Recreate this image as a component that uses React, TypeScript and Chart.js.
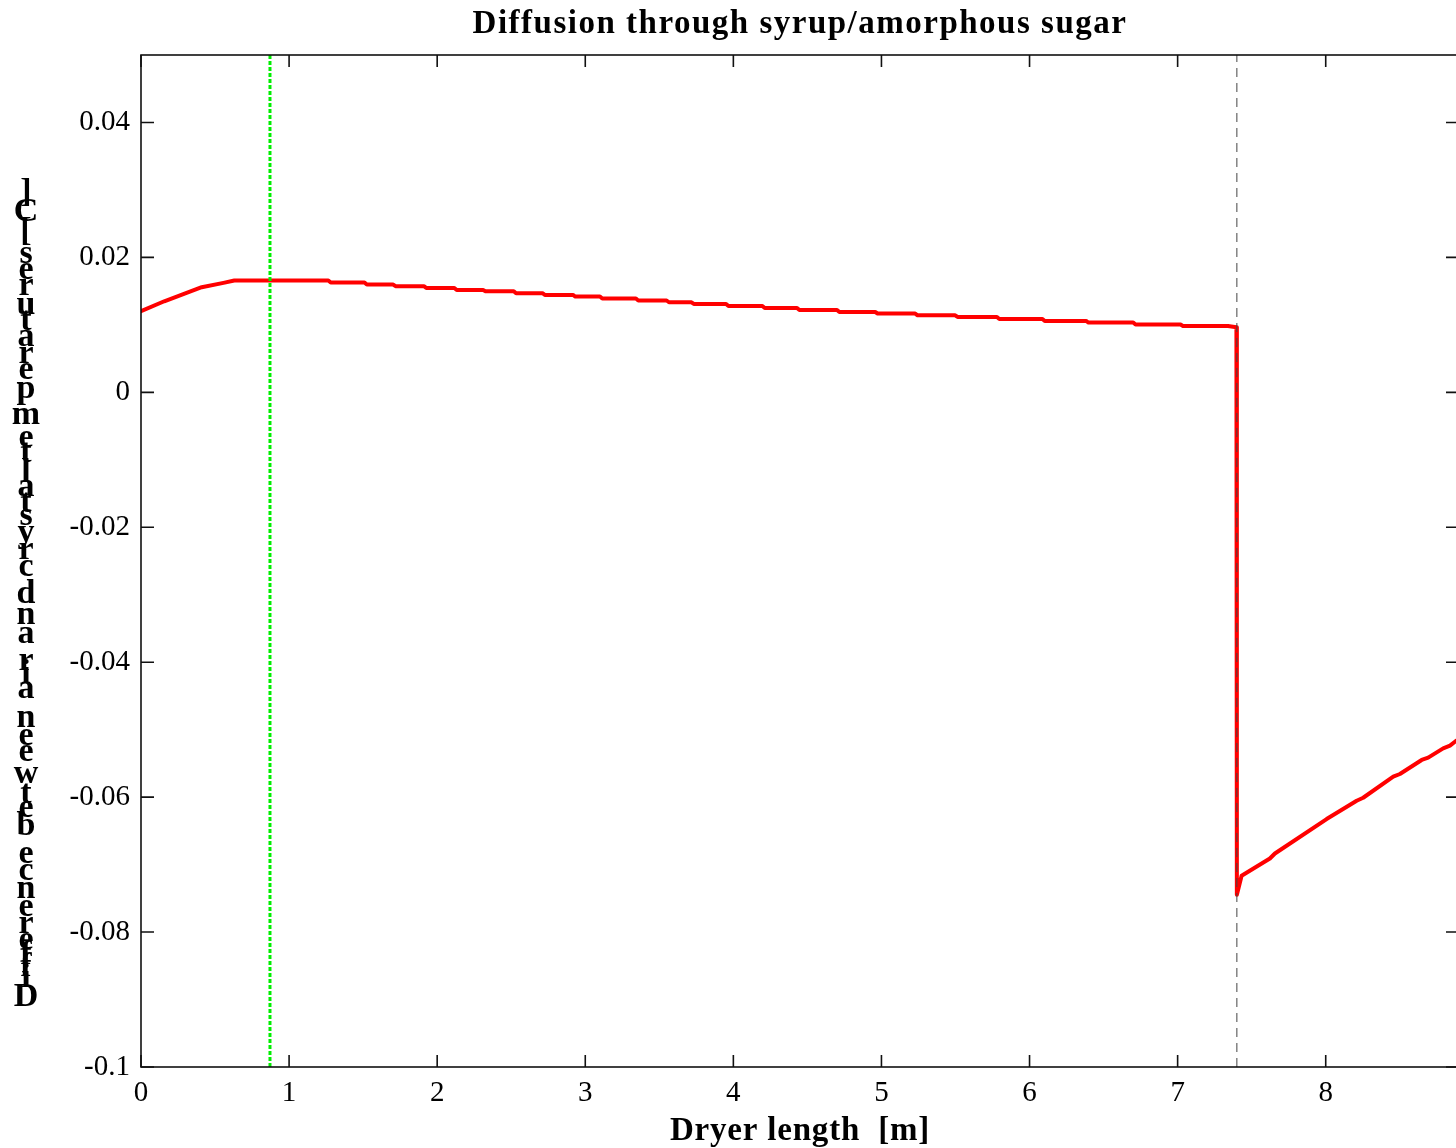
import React, { useEffect, useRef } from 'react';
import { Chart, registerables } from 'chart.js';

Chart.register(...registerables);

const TITLE = 'Diffusion through syrup/amorphous sugar';
const X_LABEL = 'Dryer length  [m]';
const Y_LABEL = 'Difference between air and crystal temperatures [C]';

const xTicks = [0, 1, 2, 3, 4, 5, 6, 7, 8];
const xTickLabels = ['0', '1', '2', '3', '4', '5', '6', '7', '8'];
const yTicks = [-0.1, -0.08, -0.06, -0.04, -0.02, 0, 0.02, 0.04];
const yTickLabels = ['-0.1', '-0.08', '-0.06', '-0.04', '-0.02', '0', '0.02', '0.04'];
const X_MIN = 0;
const X_MAX = 8.9;
const Y_MIN = -0.1;
const Y_MAX = 0.05;

// rising part at the dryer inlet
const riseX = [0, 0.157, 0.41, 0.557, 0.63, 1.261];
const riseY = [0.01202, 0.0135, 0.01558, 0.01622, 0.01657, 0.01657];
// stepped, slowly decreasing plateau
const stepX = [1.273, 1.517, 1.711, 1.918, 2.124, 2.318, 2.525, 2.719, 2.925, 3.107, 3.35, 3.557, 3.725, 3.959, 4.204, 4.438, 4.708, 4.966, 5.236, 5.506, 5.788, 6.095, 6.39, 6.708, 7.028];
const stepY = [0.01628, 0.01598, 0.01573, 0.01547, 0.01518, 0.01499, 0.01469, 0.01444, 0.0142, 0.0139, 0.01361, 0.01335, 0.0131, 0.0128, 0.01251, 0.01221, 0.01191, 0.01168, 0.01142, 0.01117, 0.01088, 0.01058, 0.01034, 0.01004, 0.00984];
// drop and recovery after the transition
const tailX = [7.34, 7.397, 7.4, 7.432, 7.623, 7.657, 8.006, 8.209, 8.253, 8.456, 8.501, 8.648, 8.692, 8.793, 8.839, 8.879, 8.9];
const tailY = [0.00984, 0.00964, -0.07448, -0.07166, -0.0691, -0.06835, -0.06325, -0.06053, -0.06009, -0.05697, -0.05657, -0.05449, -0.05415, -0.05277, -0.05237, -0.05168, -0.0514];

const GREEN_X = 0.871;
const DASH_X = 7.4;

function buildCurve() {
  const pts: { x: number; y: number }[] = [];
  riseX.forEach((x, i) => pts.push({ x, y: riseY[i] }));
  let prev = riseY[riseY.length - 1];
  stepX.forEach((x, i) => {
    pts.push({ x: x - 0.008, y: prev });
    pts.push({ x: x + 0.008, y: stepY[i] });
    prev = stepY[i];
  });
  tailX.forEach((x, i) => pts.push({ x, y: tailY[i] }));
  return pts;
}

const SERIF = '"Liberation Serif", "Times New Roman", serif';

const framePlugin = {
  id: 'frame',
  afterDatasetsDraw(chart: any) {
    const { ctx, chartArea: a, scales } = chart;
    ctx.save();
    ctx.strokeStyle = '#111111';
    ctx.lineWidth = 1.6;
    ctx.strokeRect(a.left, a.top, a.right - a.left, a.bottom - a.top);
    ctx.beginPath();
    for (const v of xTicks) {
      const px = scales.x.getPixelForValue(v);
      ctx.moveTo(px, a.bottom);
      ctx.lineTo(px, a.bottom - 12);
      ctx.moveTo(px, a.top);
      ctx.lineTo(px, a.top + 12);
    }
    for (const v of yTicks) {
      const py = scales.y.getPixelForValue(v);
      ctx.moveTo(a.left, py);
      ctx.lineTo(a.left + 13, py);
      ctx.moveTo(a.right, py);
      ctx.lineTo(a.right - 13, py);
    }
    ctx.stroke();

    const cx = (a.left + a.right) / 2;
    ctx.fillStyle = '#000';
    // title
    ctx.font = `bold 33px ${SERIF}`;
    (ctx as any).letterSpacing = '1.5px';
    ctx.textAlign = 'center';
    ctx.textBaseline = 'alphabetic';
    ctx.fillText(TITLE, cx, 33);
    // x label
    ctx.font = `bold 33px ${SERIF}`;
    (ctx as any).letterSpacing = '0.8px';
    ctx.fillText(X_LABEL, cx, 1140);
    (ctx as any).letterSpacing = '0px';

    // y label: upright glyphs stacked bottom-to-top
    ctx.font = `bold 34px ${SERIF}`;
    const chars = Array.from(Y_LABEL);
    const widths = chars.map((c) => ctx.measureText(c).width);
    const centers: number[] = [];
    let acc = 0;
    widths.forEach((w) => {
      centers.push(acc + w / 2);
      acc += w;
    });
    const bottom = 997;
    const top = 193;
    const k = (bottom - top) / (centers[centers.length - 1] - centers[0]);
    ctx.textBaseline = 'middle';
    chars.forEach((c, i) => {
      if (c === ' ') return;
      const y = bottom - (centers[i] - centers[0]) * k;
      ctx.fillText(c, 26, y);
    });
    ctx.restore();
  },
};

export default function App() {
  const ref = useRef<HTMLCanvasElement | null>(null);

  useEffect(() => {
    document.body.style.margin = '0';
    const canvas = ref.current;
    if (!canvas) return;
    const curve = buildCurve();
    const chart = new Chart(canvas, {
      type: 'line',
      data: {
        datasets: [
          {
            data: curve,
            borderColor: '#ff0000',
            borderWidth: 4,
            borderJoinStyle: 'round',
            borderCapStyle: 'round',
            pointRadius: 0,
            tension: 0,
            fill: false,
            order: 2,
          },
          {
            data: [
              { x: GREEN_X, y: Y_MIN },
              { x: GREEN_X, y: Y_MAX },
            ],
            borderColor: '#00ee00',
            borderWidth: 3,
            borderDash: [4, 2],
            pointRadius: 0,
            fill: false,
            order: 1,
          },
          {
            data: [
              { x: DASH_X, y: Y_MIN },
              { x: DASH_X, y: Y_MAX },
            ],
            borderColor: '#444444',
            borderWidth: 1,
            borderDash: [9, 6],
            pointRadius: 0,
            fill: false,
            order: 0,
          },
        ],
      },
      options: {
        animation: false,
        responsive: false,
        devicePixelRatio: 1,
        layout: { padding: { top: 55, right: 11, left: 0, bottom: 0 } },
        plugins: {
          legend: { display: false },
          title: { display: false },
          tooltip: { enabled: false },
        },
        scales: {
          x: {
            type: 'linear',
            min: X_MIN,
            max: X_MAX,
            grid: { display: false, drawTicks: false },
            border: { display: false },
            afterBuildTicks: (s: any) => {
              s.ticks = xTicks.map((v) => ({ value: v }));
            },
            afterFit: (s: any) => {
              s.height = 81;
            },
            ticks: {
              autoSkip: false,
              maxRotation: 0,
              padding: 9,
              color: '#000',
              font: { family: SERIF, size: 29 },
              callback: (_v: any, i: number) => xTickLabels[i],
            },
          },
          y: {
            type: 'linear',
            min: Y_MIN,
            max: Y_MAX,
            grid: { display: false, drawTicks: false },
            border: { display: false },
            afterBuildTicks: (s: any) => {
              s.ticks = yTicks.map((v) => ({ value: v }));
            },
            afterFit: (s: any) => {
              s.width = 141;
            },
            ticks: {
              autoSkip: false,
              padding: 11,
              color: '#000',
              font: { family: SERIF, size: 29 },
              callback: (_v: any, i: number) => yTickLabels[i],
            },
          },
        },
      },
      plugins: [framePlugin],
    } as any);
    return () => chart.destroy();
  }, []);

  return (
    <div
      style={{
        position: 'absolute',
        left: 0,
        top: 0,
        width: 1456,
        height: 1148,
        overflow: 'hidden',
        background: '#fff',
      }}
    >
      <canvas ref={ref} width={1470} height={1148} style={{ display: 'block' }} />
    </div>
  );
}
